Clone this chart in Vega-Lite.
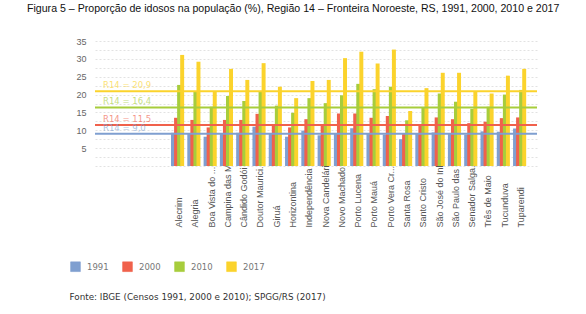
{
  "$schema": "https://vega.github.io/schema/vega-lite/v6.json",
  "autosize": {"type": "none"},
  "width": 442,
  "height": 125,
  "padding": {"left": 95, "top": 41, "right": 49, "bottom": 148},
  "background": "white",
  "title": {
    "text": "Figura 5 – Proporção de idosos na população (%), Região 14 – Fronteira Noroeste, RS, 1991, 2000, 2010 e 2017",
    "anchor": "start",
    "frame": "group",
    "dx": -68,
    "offset": 22,
    "font": "Liberation Sans",
    "fontSize": 10.6,
    "fontWeight": "normal",
    "color": "#111"
  },
  "datasets": {
    "bars": [
      {"m": "Alecrim", "ano": "1991", "v": 9.3}, {"m": "Alecrim", "ano": "2000", "v": 13.5}, {"m": "Alecrim", "ano": "2010", "v": 22.7}, {"m": "Alecrim", "ano": "2017", "v": 31.1},
      {"m": "Alegria", "ano": "1991", "v": 9.2}, {"m": "Alegria", "ano": "2000", "v": 12.9}, {"m": "Alegria", "ano": "2010", "v": 20.8}, {"m": "Alegria", "ano": "2017", "v": 29.2},
      {"m": "Boa Vista do ...", "ano": "1991", "v": 8.2}, {"m": "Boa Vista do ...", "ano": "2000", "v": 10.8}, {"m": "Boa Vista do ...", "ano": "2010", "v": 16.6}, {"m": "Boa Vista do ...", "ano": "2017", "v": 20.8},
      {"m": "Campina das M...", "ano": "1991", "v": 9.1}, {"m": "Campina das M...", "ano": "2000", "v": 12.9}, {"m": "Campina das M...", "ano": "2010", "v": 19.6}, {"m": "Campina das M...", "ano": "2017", "v": 27.2},
      {"m": "Cândido Godói", "ano": "1991", "v": 9.3}, {"m": "Cândido Godói", "ano": "2000", "v": 12.9}, {"m": "Cândido Godói", "ano": "2010", "v": 18.2}, {"m": "Cândido Godói", "ano": "2017", "v": 24.1},
      {"m": "Doutor Maurici...", "ano": "1991", "v": 11.0}, {"m": "Doutor Maurici...", "ano": "2000", "v": 14.6}, {"m": "Doutor Maurici...", "ano": "2010", "v": 20.9}, {"m": "Doutor Maurici...", "ano": "2017", "v": 28.8},
      {"m": "Giruá", "ano": "1991", "v": 9.2}, {"m": "Giruá", "ano": "2000", "v": 11.5}, {"m": "Giruá", "ano": "2010", "v": 16.9}, {"m": "Giruá", "ano": "2017", "v": 22.2},
      {"m": "Horizontina", "ano": "1991", "v": 8.2}, {"m": "Horizontina", "ano": "2000", "v": 10.8}, {"m": "Horizontina", "ano": "2010", "v": 14.9}, {"m": "Horizontina", "ano": "2017", "v": 19.0},
      {"m": "Independência", "ano": "1991", "v": 9.9}, {"m": "Independência", "ano": "2000", "v": 13.1}, {"m": "Independência", "ano": "2010", "v": 19.0}, {"m": "Independência", "ano": "2017", "v": 23.8},
      {"m": "Nova Candelári...", "ano": "1991", "v": 8.6}, {"m": "Nova Candelári...", "ano": "2000", "v": 11.5}, {"m": "Nova Candelári...", "ano": "2010", "v": 17.6}, {"m": "Nova Candelári...", "ano": "2017", "v": 24.1},
      {"m": "Novo Machado", "ano": "1991", "v": 9.0}, {"m": "Novo Machado", "ano": "2000", "v": 14.7}, {"m": "Novo Machado", "ano": "2010", "v": 19.8}, {"m": "Novo Machado", "ano": "2017", "v": 30.2},
      {"m": "Porto Lucena", "ano": "1991", "v": 10.6}, {"m": "Porto Lucena", "ano": "2000", "v": 14.7}, {"m": "Porto Lucena", "ano": "2010", "v": 23.0}, {"m": "Porto Lucena", "ano": "2017", "v": 32.0},
      {"m": "Porto Mauá", "ano": "1991", "v": 9.0}, {"m": "Porto Mauá", "ano": "2000", "v": 13.5}, {"m": "Porto Mauá", "ano": "2010", "v": 21.5}, {"m": "Porto Mauá", "ano": "2017", "v": 28.7},
      {"m": "Porto Vera Cr...", "ano": "1991", "v": 8.8}, {"m": "Porto Vera Cr...", "ano": "2000", "v": 14.0}, {"m": "Porto Vera Cr...", "ano": "2010", "v": 22.2}, {"m": "Porto Vera Cr...", "ano": "2017", "v": 32.6},
      {"m": "Santa Rosa", "ano": "1991", "v": 7.5}, {"m": "Santa Rosa", "ano": "2000", "v": 9.0}, {"m": "Santa Rosa", "ano": "2010", "v": 12.8}, {"m": "Santa Rosa", "ano": "2017", "v": 15.4},
      {"m": "Santo Cristo", "ano": "1991", "v": 9.1}, {"m": "Santo Cristo", "ano": "2000", "v": 11.7}, {"m": "Santo Cristo", "ano": "2010", "v": 16.3}, {"m": "Santo Cristo", "ano": "2017", "v": 21.8},
      {"m": "São José do Inh...", "ano": "1991", "v": 9.4}, {"m": "São José do Inh...", "ano": "2000", "v": 13.6}, {"m": "São José do Inh...", "ano": "2010", "v": 20.3}, {"m": "São José do Inh...", "ano": "2017", "v": 26.1},
      {"m": "São Paulo das ...", "ano": "1991", "v": 9.0}, {"m": "São Paulo das ...", "ano": "2000", "v": 13.1}, {"m": "São Paulo das ...", "ano": "2010", "v": 18.0}, {"m": "São Paulo das ...", "ano": "2017", "v": 26.1},
      {"m": "Senador Salga...", "ano": "1991", "v": 8.8}, {"m": "Senador Salga...", "ano": "2000", "v": 12.0}, {"m": "Senador Salga...", "ano": "2010", "v": 16.0}, {"m": "Senador Salga...", "ano": "2017", "v": 20.8},
      {"m": "Três de Maio", "ano": "1991", "v": 9.7}, {"m": "Três de Maio", "ano": "2000", "v": 12.4}, {"m": "Três de Maio", "ano": "2010", "v": 16.6}, {"m": "Três de Maio", "ano": "2017", "v": 20.3},
      {"m": "Tucunduva", "ano": "1991", "v": 9.6}, {"m": "Tucunduva", "ano": "2000", "v": 13.4}, {"m": "Tucunduva", "ano": "2010", "v": 20.0}, {"m": "Tucunduva", "ano": "2017", "v": 25.3},
      {"m": "Tuparendi", "ano": "1991", "v": 10.5}, {"m": "Tuparendi", "ano": "2000", "v": 13.6}, {"m": "Tuparendi", "ano": "2010", "v": 21.3}, {"m": "Tuparendi", "ano": "2017", "v": 27.2}
    ],
    "refs": [
      {"ano": "1991", "v": 9.0, "label": "R14 = 9,0"},
      {"ano": "2000", "v": 11.5, "label": "R14 = 11,5"},
      {"ano": "2010", "v": 16.4, "label": "R14 = 16,4"},
      {"ano": "2017", "v": 20.9, "label": "R14 = 20,9"}
    ]
  },
  "encoding": {
    "y": {
      "field": "v", "type": "quantitative",
      "scale": {"domain": [0, 35], "nice": false},
      "axis": {
        "title": null,
        "values": [0, 2.5, 5, 7.5, 10, 12.5, 15, 17.5, 20, 22.5, 25, 27.5, 30, 32.5, 35],
        "labelExpr": "datum.value % 5 === 0 && datum.value > 0 ? datum.label : ''",
        "labelOverlap": false,
        "labelFont": "Liberation Sans", "labelFontSize": 9, "labelColor": "#666", "labelPadding": 9,
        "ticks": false, "domain": false,
        "grid": true, "gridColor": "#e2e2e2", "gridDash": [2, 2]
      }
    },
    "color": {
      "field": "ano", "type": "nominal",
      "scale": {"domain": ["1991", "2000", "2010", "2017"], "range": ["#7f9fd0", "#f0614c", "#a7cd3c", "#fbd32c"]},
      "legend": {
        "title": null, "orient": "none", "direction": "horizontal", "legendX": -25, "legendY": 220,
        "symbolType": "square", "symbolSize": 95, "symbolStrokeWidth": 0.6, "symbolStrokeColor": "#bbb", "symbolOpacity": 1,
        "labelFont": "DejaVu Sans", "labelFontSize": 8.5, "labelColor": "#777", "labelOffset": 6, "columnPadding": 12
      }
    }
  },
  "layer": [
    {
      "data": {"name": "bars"},
      "mark": {"type": "bar", "width": {"band": 1.3}},
      "encoding": {
        "x": {
          "field": "m", "type": "nominal", "sort": null,
          "scale": {
            "domain": ["#1", "#2", "#3", "#4", "Alecrim", "Alegria", "Boa Vista do ...", "Campina das M...", "Cândido Godói", "Doutor Maurici...", "Giruá", "Horizontina", "Independência", "Nova Candelári...", "Novo Machado", "Porto Lucena", "Porto Mauá", "Porto Vera Cr...", "Santa Rosa", "Santo Cristo", "São José do Inh...", "São Paulo das ...", "Senador Salga...", "Três de Maio", "Tucunduva", "Tuparendi"],
            "paddingInner": 0.25, "paddingOuter": 0.694, "align": 0.562
          },
          "axis": {
            "title": "Fonte: IBGE (Censos 1991, 2000 e 2010); SPGG/RS (2017)",
            "titleFont": "DejaVu Sans", "titleFontSize": 8.8, "titleFontWeight": "normal", "titleColor": "#333",
            "titleAnchor": "start", "titleAlign": "left", "titleX": -26, "titleY": 130, "titleBaseline": "middle",
            "labelExpr": "indexof(datum.label, '#') === 0 ? '' : datum.label",
            "labelAngle": -90, "labelAlign": "left", "labelBaseline": "middle", "labelPadding": 61,
            "labelFont": "Liberation Sans", "labelFontSize": 9, "labelColor": "#555", "labelOverlap": false,
            "ticks": false, "domain": false, "labelLimit": 0
          }
        },
        "xOffset": {"field": "ano", "type": "nominal", "sort": ["1991", "2000", "2010", "2017"], "scale": {"paddingInner": 0, "paddingOuter": 0}}
      }
    },
    {
      "data": {"name": "refs"},
      "mark": {"type": "rule", "strokeWidth": 2},
      "encoding": {}
    },
    {
      "data": {"name": "refs"},
      "mark": {"type": "text", "align": "left", "baseline": "bottom", "dx": 8, "dy": -1, "font": "DejaVu Sans", "fontSize": 8.5, "opacity": 0.65},
      "encoding": {
        "x": {"value": 0},
        "text": {"field": "label"}
      }
    }
  ],
  "config": {"view": {"stroke": null}}
}
